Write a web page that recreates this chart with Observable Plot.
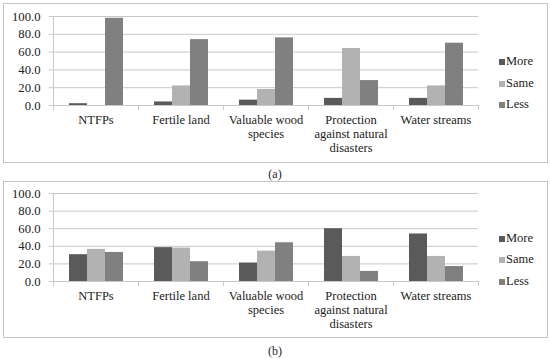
<!DOCTYPE html>
<html>
<head>
<meta charset="utf-8">
<script src="https://cdn.jsdelivr.net/npm/d3@7"></script>
<script src="https://cdn.jsdelivr.net/npm/@observablehq/plot@0.6"></script>
<style>
  html, body { margin: 0; padding: 0; background: #fff; }
  #root { position: relative; width: 550px; height: 359px; overflow: hidden; font-family: "Liberation Serif", "Times New Roman", serif; }
  .box { position: absolute; left: 3px; width: 545px; box-sizing: border-box; border: 1px solid #c4c4c4; }
  .box svg { position: absolute; left: 0; top: 0; }
  .legend { position: absolute; left: 491px; font-size: 12.5px; color: #222; }
  .legend .item { position: relative; height: 21.5px; line-height: 21.5px; padding-left: 11px; white-space: nowrap; }
  .legend .sw { position: absolute; left: 4px; top: 8px; width: 6px; height: 6px; }
  .cap { position: absolute; left: 0; width: 550px; text-align: center; font-size: 12px; color: #1f2233; line-height: 14px; }
</style>
</head>
<body>
<div id="root"></div>
<script>
// ---- data ----
const categories = ["NTFPs", "Fertile land", "Valuable wood species", "Protection against natural disasters", "Water streams"];
const tickLabels = ["NTFPs", "Fertile land", "Valuable wood\nspecies", "Protection\nagainst natural\ndisasters", "Water streams"];
const series = ["More", "Same", "Less"];
const colors = ["#5a5a5a", "#b2b2b2", "#808080"];
const yTicks = [0, 20, 40, 60, 80, 100];

// panel (a)
const moreA = [2.0, 4.0, 6.0, 8.0, 8.0];
const sameA = [0.0, 22.0, 18.0, 64.0, 22.0];
const lessA = [98.0, 74.0, 76.0, 28.0, 70.0];
// panel (b)
const moreB = [30.5, 38.5, 21.0, 60.0, 54.0];
const sameB = [36.5, 38.0, 34.5, 28.5, 28.5];
const lessB = [33.0, 22.5, 44.0, 11.5, 17.0];

const captions = ["(a)", "(b)"];

const root = document.getElementById("root");

function rowsOf(more, same, less) {
  const vals = [more, same, less];
  return categories.flatMap((c, i) => series.map((s, j) => ({category: c, series: s, value: vals[j][i]})));
}

function makePanel(more, same, less, boxTop, boxH, marginTop, plotH, caption, capTop) {
  const box = document.createElement("div");
  box.className = "box";
  box.style.top = boxTop + "px";
  box.style.height = boxH + "px";
  root.appendChild(box);
  const svgH = boxH - 2;
  const chart = Plot.plot({
    width: 543,
    height: svgH,
    marginLeft: 48,
    marginRight: 68,
    marginTop: marginTop,
    marginBottom: svgH - marginTop - plotH,
    style: {fontFamily: "'Liberation Serif', 'Times New Roman', serif", fontSize: "12.5px", color: "#222", background: "transparent"},
    fx: {domain: categories, padding: 0, label: null},
    x: {domain: series, paddingInner: 0, paddingOuter: 0.75, axis: null},
    y: {domain: [0, 100], label: null},
    color: {domain: series, range: colors},
    marks: [
      Plot.gridY(yTicks, {stroke: "#c8c8c8", strokeOpacity: 1}),
      Plot.frame({anchor: "left", stroke: "#c8c8c8", insetTop: plotH, insetBottom: -4}),
      Plot.frame({anchor: "right", stroke: "#c8c8c8", insetTop: plotH, insetBottom: -4}),
      Plot.frame({anchor: "left", stroke: "#c8c8c8", facet: "super"}),
      Plot.barY(rowsOf(more, same, less), {fx: "category", x: "series", y: "value", fill: "series"}),
      Plot.axisY({ticks: yTicks, tickFormat: d3.format(".1f"), tickSize: 4, tickPadding: 9, stroke: "#c8c8c8",
                  fontSize: 12.7, label: null}),
      Plot.axisFx({anchor: "bottom", tickSize: 0, tickPadding: 9, lineHeight: 1.12, label: null,
                   tickFormat: d => tickLabels[categories.indexOf(d)]})
    ]
  });
  box.appendChild(chart);

  const legend = document.createElement("div");
  legend.className = "legend";
  legend.style.top = (boxH / 2 - 1 - 32) + "px";
  series.forEach((s, i) => {
    const it = document.createElement("div");
    it.className = "item";
    const sw = document.createElement("span");
    sw.className = "sw";
    sw.style.background = colors[i];
    it.appendChild(sw);
    it.appendChild(document.createTextNode(s));
    legend.appendChild(it);
  });
  box.appendChild(legend);

  const cap = document.createElement("div");
  cap.className = "cap";
  cap.style.top = capTop + "px";
  cap.textContent = caption;
  root.appendChild(cap);
}

makePanel(moreA, sameA, lessA, 3, 160, 12, 89, captions[0], 167);
makePanel(moreB, sameB, lessB, 181, 157, 11, 88, captions[1], 344);
</script>
</body>
</html>
